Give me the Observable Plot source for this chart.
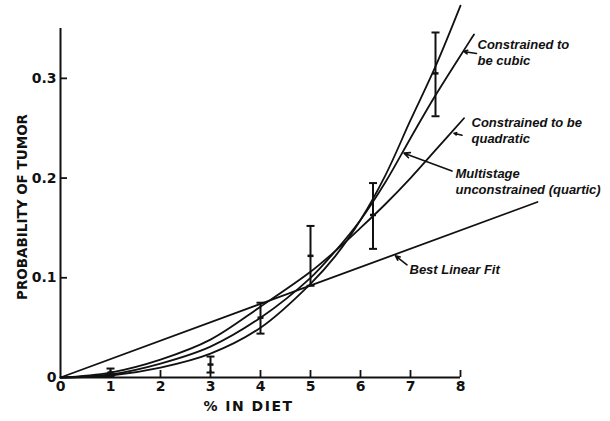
<!DOCTYPE html>
<html>
<head>
<meta charset="utf-8">
<script src="https://cdn.jsdelivr.net/npm/d3@7"></script>
<script src="https://cdn.jsdelivr.net/npm/@observablehq/plot@0.6"></script>
<style>
  html, body { margin: 0; padding: 0; background: #fff; }
  #chart { width: 610px; height: 421px; }
</style>
</head>
<body>
<div id="chart"></div>
<script>
// ---- axis ticks ----
const xTicks = [0, 1, 2, 3, 4, 5, 6, 7, 8];
const yTicks = [0, 0.1, 0.2, 0.3];

// ---- observed proportions with error bars ----
const doseX   = [1, 3, 4, 5, 6.25, 7.5];
const obsLow  = [0.001, 0.005, 0.044, 0.092, 0.129, 0.262];
const obsMid  = [0.005, 0.013, 0.060, 0.122, 0.163, 0.305];
const obsHigh = [0.009, 0.021, 0.075, 0.152, 0.195, 0.346];

// ---- fitted curves ----
const linearX = [0, 9.54];
const linearY = [0, 0.176];

const quadX = [0, 1, 2, 3, 4, 5, 5.5, 6, 6.5, 7, 7.5, 8.07];
const quadY = [0, 0.005, 0.018, 0.038, 0.071, 0.106, 0.127, 0.150, 0.174, 0.200, 0.228, 0.260];

const cubicX = [0, 1, 2, 3, 4, 5, 5.5, 6, 6.5, 7, 7.5, 8.27];
const cubicY = [0, 0.003, 0.014, 0.031, 0.060, 0.100, 0.127, 0.158, 0.196, 0.240, 0.283, 0.344];

const quartX = [0, 1, 2, 3, 4, 5, 5.5, 6, 6.5, 7, 7.5, 8.0];
const quartY = [0, 0.002, 0.010, 0.024, 0.050, 0.094, 0.122, 0.158, 0.203, 0.258, 0.312, 0.373];

// ---- annotations ----
const noteText = ["Constrained to\nbe cubic", "Constrained to be\nquadratic", "Multistage\nunconstrained (quartic)", "Best Linear Fit"];
const noteX    = [8.34, 8.22, 7.9, 6.98];
const noteY    = [0.3265, 0.2482, 0.1971, 0.1093];
const arrowX1  = [8.32, 8.03, 7.83, 6.93];
const arrowY1  = [0.325, 0.243, 0.207, 0.113];
const arrowX2  = [8.06, 7.87, 6.87, 6.70];
const arrowY2  = [0.327, 0.245, 0.225, 0.122];

const hline = {
  draw(context, size) {
    const r = Math.sqrt(size / Math.PI);
    context.moveTo(-r, 0);
    context.lineTo(r, 0);
  }
};

const fontTicks = "DejaVu Sans";
const fontNotes = "Liberation Sans";
const curveStyle = {stroke: "#111", strokeWidth: 1.8, curve: "catmull-rom"};

const chart = Plot.plot({
  width: 610,
  height: 421,
  marginLeft: 60,
  marginRight: 150,
  marginTop: 28,
  marginBottom: 44,
  style: {fontFamily: fontTicks, color: "#111", background: "#fff"},
  x: {domain: [0, 8], axis: null},
  y: {domain: [0, 0.35], axis: null},
  marks: [
    // axis lines
    Plot.ruleY([0], {x1: 0, x2: 8, stroke: "#111", strokeWidth: 2}),
    Plot.ruleX([0], {y1: 0, y2: 0.35, stroke: "#111", strokeWidth: 2}),
    // inward ticks
    Plot.tickX(xTicks.slice(1), {x: d => d, insetTop: 342, stroke: "#111", strokeWidth: 1.8}),
    Plot.tickY(yTicks.slice(1), {y: d => d, insetRight: 393, stroke: "#111", strokeWidth: 1.8}),
    // tick labels
    Plot.text(xTicks, {x: d => d, frameAnchor: "bottom", dy: 13, text: d => String(d),
      fontSize: 14, fontWeight: "bold", fontFamily: fontTicks, fill: "#111"}),
    Plot.text(yTicks, {y: d => d, frameAnchor: "left", dx: -4, textAnchor: "end", text: d => String(d),
      fontSize: 14, fontWeight: "bold", fontFamily: fontTicks, fill: "#111"}),
    // axis titles
    Plot.text(["% IN DIET"], {frameAnchor: "bottom", dx: -12, dy: 33, text: d => d,
      fontSize: 14, fontWeight: "bold", fontFamily: fontTicks, fill: "#111"}),
    Plot.text(["PROBABILITY OF TUMOR"], {frameAnchor: "left", textAnchor: "middle", dx: -38, dy: 4, rotate: -90, text: d => d,
      fontSize: 13.5, fontWeight: "bold", fontFamily: fontTicks, fill: "#111"}),
    // fitted curves
    Plot.line(linearX, {x: linearX, y: linearY, stroke: "#111", strokeWidth: 1.8}),
    Plot.line(quadX, {x: quadX, y: quadY, ...curveStyle}),
    Plot.line(cubicX, {x: cubicX, y: cubicY, ...curveStyle}),
    Plot.line(quartX, {x: quartX, y: quartY, ...curveStyle}),
    // error bars
    Plot.ruleX(doseX, {x: doseX, y1: obsLow, y2: obsHigh, stroke: "#111", strokeWidth: 2}),
    Plot.dot(doseX, {x: doseX, y: obsLow, symbol: hline, r: 4, stroke: "#111", strokeWidth: 2}),
    Plot.dot(doseX, {x: doseX, y: obsHigh, symbol: hline, r: 4, stroke: "#111", strokeWidth: 2}),
    Plot.dot(doseX, {x: doseX, y: obsMid, symbol: hline, r: 3, stroke: "#111", strokeWidth: 2.5}),
    // annotations
    Plot.arrow(noteText, {x1: arrowX1, y1: arrowY1, x2: arrowX2, y2: arrowY2,
      stroke: "#111", strokeWidth: 1.6, headLength: 6, headAngle: 50}),
    Plot.text(noteText, {x: noteX, y: noteY, text: d => d, textAnchor: "start", lineAnchor: "middle",
      lineHeight: 1.22, fontSize: 13, fontWeight: "bold", fontStyle: "italic", fontFamily: fontNotes, fill: "#111"})
  ]
});

d3.select(chart).selectAll("text")
  .filter(function() { return this.textContent === "% IN DIET"; })
  .attr("letter-spacing", "1.5px");

document.getElementById("chart").appendChild(chart);
</script>
</body>
</html>
